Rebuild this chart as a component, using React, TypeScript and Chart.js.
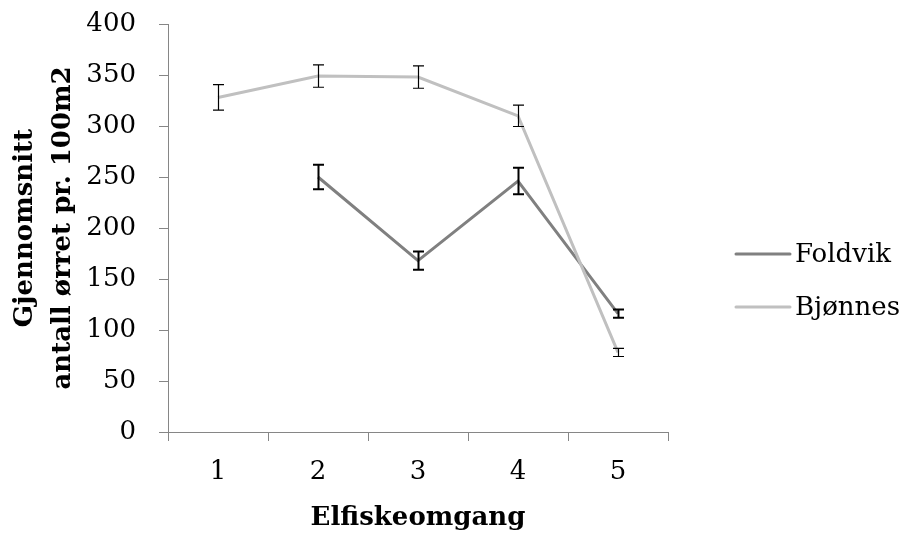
import React, { useEffect, useRef } from "react";
import { Chart, registerables } from "chart.js";

Chart.register(...registerables);

// ---- data ----
const categories = ["1", "2", "3", "4", "5"];
const foldvikValues = [null, 250, 168, 246, 116];
const foldvikErrors = [null, 12, 9, 13, 4];
const bjonnesValues = [328, 349, 348, 310, 78];
const bjonnesErrors = [12.5, 11, 11, 10.5, 4];
const seriesNames = ["Foldvik", "Bjønnes"];
const yTitleLines = ["Gjennomsnitt", "antall ørret pr. 100m2"];
const xTitleText = "Elfiskeomgang";
const yMin = 0;
const yMax = 400;
const yStep = 50;

const FONT = "'DejaVu Serif', serif";

const errorBarPlugin = {
  id: "errorBars",
  afterDatasetsDraw(chart: any) {
    const ctx = chart.ctx;
    const yScale = chart.scales.y;
    chart.data.datasets.forEach((ds: any, di: number) => {
      const meta = chart.getDatasetMeta(di);
      const errs = ds.errors || [];
      meta.data.forEach((pt: any, i: number) => {
        const v = ds.data[i];
        const e = errs[i];
        if (v == null || e == null) return;
        const x = Math.round(pt.x) + 0.5;
        const top = yScale.getPixelForValue(v + e);
        const bot = yScale.getPixelForValue(v - e);
        ctx.save();
        ctx.strokeStyle = "#000000";
        ctx.lineWidth = ds.errLineWidth || 1.5;
        ctx.beginPath();
        ctx.moveTo(x, top);
        ctx.lineTo(x, bot);
        ctx.moveTo(x - 5.5, top);
        ctx.lineTo(x + 5.5, top);
        ctx.moveTo(x - 5.5, bot);
        ctx.lineTo(x + 5.5, bot);
        ctx.stroke();
        ctx.restore();
      });
    });
  },
};

const legendPlugin = {
  id: "customLegend",
  afterDraw(chart: any) {
    const ctx = chart.ctx;
    const area = chart.chartArea;
    const x0 = area.right + 68;
    const yStart = (area.top + area.bottom) / 2 + 26;
    chart.data.datasets.forEach((ds: any, i: number) => {
      const y = yStart + i * 53;
      ctx.save();
      ctx.strokeStyle = ds.borderColor;
      ctx.lineWidth = 3;
      ctx.lineCap = "round";
      ctx.beginPath();
      ctx.moveTo(x0, y);
      ctx.lineTo(x0 + 54, y);
      ctx.stroke();
      ctx.fillStyle = "#000000";
      ctx.font = `26px ${FONT}`;
      ctx.textBaseline = "middle";
      ctx.textAlign = "left";
      ctx.fillText(ds.label, x0 + 59, y + 1);
      ctx.restore();
    });
  },
};

export default function App() {
  const ref = useRef<HTMLCanvasElement | null>(null);

  useEffect(() => {
    document.documentElement.style.overflow = "hidden";
    document.body.style.overflow = "hidden";
    const canvas = ref.current;
    if (!canvas) return;
    const chart = new Chart(canvas, {
      type: "line",
      data: {
        labels: categories,
        datasets: [
          {
            label: seriesNames[0],
            data: foldvikValues,
            errors: foldvikErrors,
            errLineWidth: 2,
            borderColor: "#808080",
            backgroundColor: "#808080",
            borderWidth: 3,
            pointRadius: 0,
            tension: 0,
            order: 1,
          } as any,
          {
            label: seriesNames[1],
            data: bjonnesValues,
            errors: bjonnesErrors,
            errLineWidth: 1.2,
            borderColor: "#c0c0c0",
            backgroundColor: "#c0c0c0",
            borderWidth: 3,
            pointRadius: 0,
            tension: 0,
            order: 0,
          } as any,
        ],
      },
      options: {
        animation: false,
        responsive: false,
        devicePixelRatio: 1,
        layout: { padding: { left: 0, right: 231, top: 16, bottom: 0 } },
        plugins: {
          legend: { display: false },
          tooltip: { enabled: false },
        },
        scales: {
          x: {
            type: "category",
            offset: true,
            grid: {
              offset: true,
              drawOnChartArea: false,
              drawTicks: true,
              tickLength: 9,
              color: "#868686",
              lineWidth: 1,
            },
            border: { display: true, color: "#868686", width: 1 },
            ticks: {
              color: "#000000",
              font: { family: FONT, size: 26 },
              padding: 16,
            },
            title: {
              display: true,
              text: xTitleText,
              color: "#000000",
              font: { family: FONT, size: 26, weight: "bold" },
              padding: { top: 0, bottom: 1 },
            },
            afterFit(scale: any) {
              scale.height = 103;
            },
          },
          y: {
            min: yMin,
            max: yMax,
            grid: {
              drawOnChartArea: false,
              drawTicks: true,
              tickLength: 9,
              color: "#868686",
              lineWidth: 1,
            },
            border: { display: true, color: "#868686", width: 1 },
            ticks: {
              stepSize: yStep,
              color: "#000000",
              font: { family: FONT, size: 26 },
              padding: 23,
            },
            title: {
              display: true,
              text: yTitleLines,
              color: "#000000",
              font: { family: FONT, size: 26, weight: "bold", lineHeight: 1.46 },
              padding: { top: -2, bottom: 0 },
            },
            afterFit(scale: any) {
              scale.width = 160;
              scale.paddingTop = 0;
              scale.paddingBottom = 0;
            },
          },
        },
      } as any,
      plugins: [errorBarPlugin, legendPlugin],
    });
    return () => chart.destroy();
  }, []);

  return (
    <div style={{ width: 891, height: 527 }}>
      <canvas ref={ref} width={891} height={527} />
    </div>
  );
}
